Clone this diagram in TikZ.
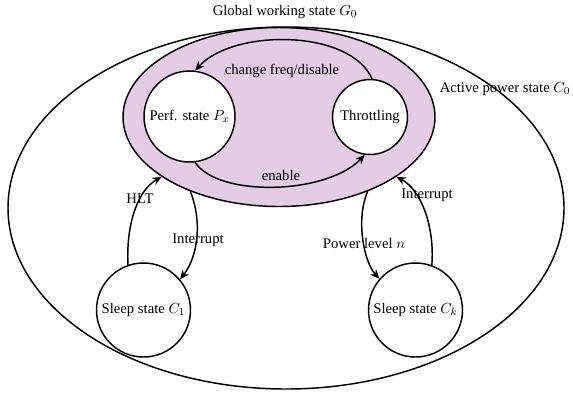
\documentclass[tikz,border=0pt]{standalone}
\usepackage{fontspec}
\setmainfont{Liberation Serif}
\usetikzlibrary{shapes.geometric,arrows.meta}
\definecolor{pinkfill}{RGB}{228,204,229}
\begin{document}
\begin{tikzpicture}[x=0.75pt,y=-0.75pt,
  every node/.style={font=\fontsize{11}{13}\selectfont},
  region/.style={ellipse,draw,line width=1.1pt,inner sep=0pt},
  state/.style={circle,draw,line width=1.1pt,fill=white,inner sep=0pt},
  conn/.style={line width=1.1pt,-{Stealth[length=7pt,width=6pt]}},
  lab/.style={inner sep=1pt}]
\useasboundingbox (0,0) rectangle (573,394);
\node[region,minimum width=556*0.75pt,minimum height=362*0.75pt] (A) at (286,208) {};
\node[region,fill=pinkfill,minimum width=312*0.75pt,minimum height=179*0.75pt] (G) at (279,117) {};
\node[state,minimum size=91*0.75pt] (P) at (189.5,116.5) {Perf. state $P_x$};
\node[state,minimum size=75*0.75pt] (T) at (370,117) {Throttling};
\node[state,minimum size=94*0.75pt] (S1) at (143.5,310) {Sleep state $C_1$};
\node[state,minimum size=94*0.75pt] (Sk) at (415.5,310) {Sleep state $C_k$};
\node[lab] (gl) at (285,12) {Global working state $G_0$};
\node[lab] (al) at (505,89) {Active power state $C_0$};
\draw[conn] (T.87) .. controls +(-22,-50) and +(38,-42) .. (P.83);
\draw[conn] (P.277) .. controls +(23,35) and +(-38,40) .. (T.262);
\draw[conn] (S1.109) .. controls +(-2,-43) and +(-23,13) .. (G.207);
\draw[conn] (G.220) .. controls +(12,30) and +(18,-23) .. (S1.40);
\draw[conn] (G.320) .. controls +(-12,27) and +(-16,-17) .. (Sk.139);
\draw[conn] (Sk.70) .. controls +(3,-38) and +(25,13) .. (G.333);
\node[lab] (cf) at (282,71) {change freq/disable};
\node[lab] (en) at (281,175) {enable};
\node[lab] (hlt) at (140,199) {HLT};
\node[lab] (i1) at (198,240) {Interrupt};
\node[lab] (pl) at (364,243) {Power level $n$};
\node[lab] (i2) at (427,195) {Interrupt};
\end{tikzpicture}
\end{document}
